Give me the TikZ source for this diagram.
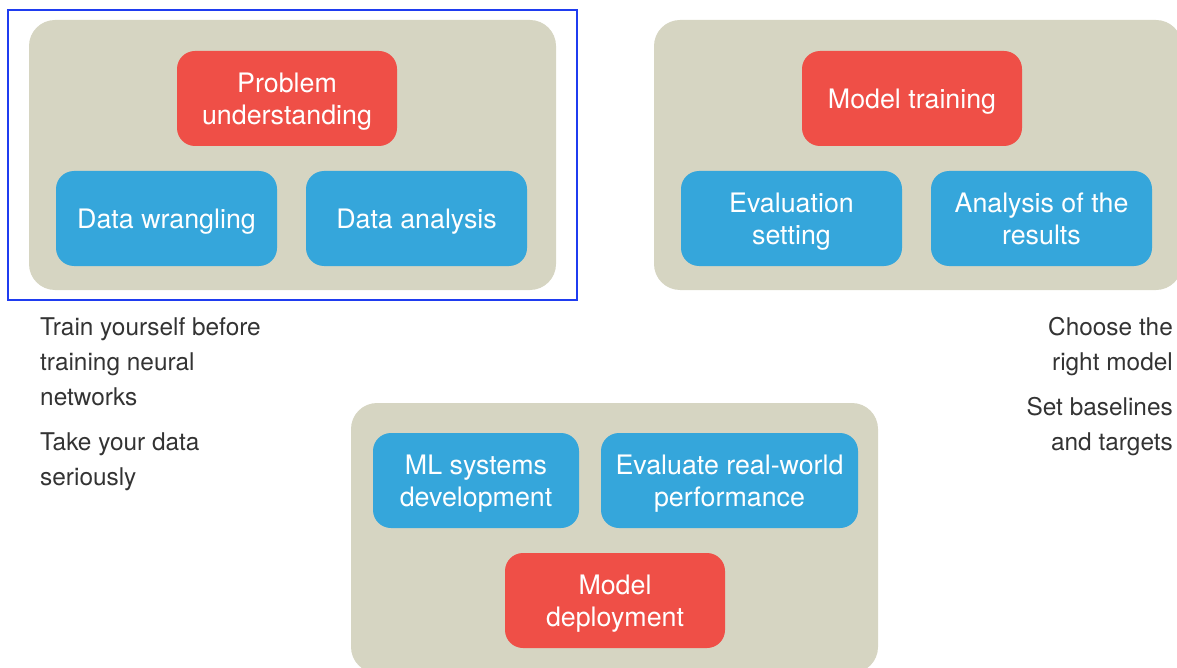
\documentclass[tikz,border=0pt]{standalone}
\usepackage{fontspec}
\setmainfont{TeX Gyre Heros}
\usepackage{xcolor}
\definecolor{panelbg}{HTML}{D6D5C2}
\definecolor{stepred}{HTML}{EF4F47}
\definecolor{stepblue}{HTML}{35A6DB}
\definecolor{notegray}{HTML}{333333}
\definecolor{selblue}{HTML}{1F3CF0}

\begin{document}
\begin{tikzpicture}[x=1pt,y=-1pt,
  panel/.style={fill=panelbg,rounded corners=26pt,minimum width=527pt,minimum height=270pt,inner sep=0pt},
  task/.style={rounded corners=18pt,minimum height=95pt,minimum width=220pt,inner sep=0pt,align=center,text=white,text depth=0pt,font=\fontsize{26.8}{32}\selectfont},
  redbox/.style={task,fill=stepred},
  bluebox/.style={task,fill=stepblue},
  note/.style={inner sep=0pt,text=notegray,font=\fontsize{24.4}{35}\selectfont}]
\clip(0,0)rectangle(1177,668);
% panels
\node[panel](panelA)at(292.5,155){};
\node[panel,minimum width=528pt](panelB)at(918,155){};
\node[panel](panelC)at(614.5,538){};
\draw[selblue,line width=2pt](8,10)rectangle(577,300);
% first stage
\node[redbox](problem)at(287,98.5){Problem\\understanding};
\node[bluebox,minimum width=221pt](wrangling)at(166.5,218.5){Data wrangling};
\node[bluebox,minimum width=221pt](analysis)at(416.5,218.5){Data analysis};
% second stage
\node[redbox](training)at(912,98.5){Model training};
\node[bluebox,minimum width=221pt](evalset)at(791.5,218.5){Evaluation\\setting};
\node[bluebox,minimum width=221pt](results)at(1041.5,218.5){Analysis of the\\results};
% third stage
\node[bluebox,minimum width=206pt](mlsys)at(476,480.5){ML systems\\development};
\node[bluebox,minimum width=257pt](realworld)at(729.5,480.5){Evaluate real-world\\performance};
\node[redbox](deploy)at(615,600.5){Model\\deployment};
% notes (base = last line)
\node[note,anchor=base west,align=left](tipA)at(40,405){Train yourself before\\training neural\\networks};
\node[note,anchor=base west,align=left](tipB)at(40,485){Take your data\\seriously};
\node[note,anchor=base east,align=right](tipC)at(1173,370){Choose the\\right model};
\node[note,anchor=base east,align=right](tipD)at(1173,450){Set baselines\\and targets};
\end{tikzpicture}
\end{document}
